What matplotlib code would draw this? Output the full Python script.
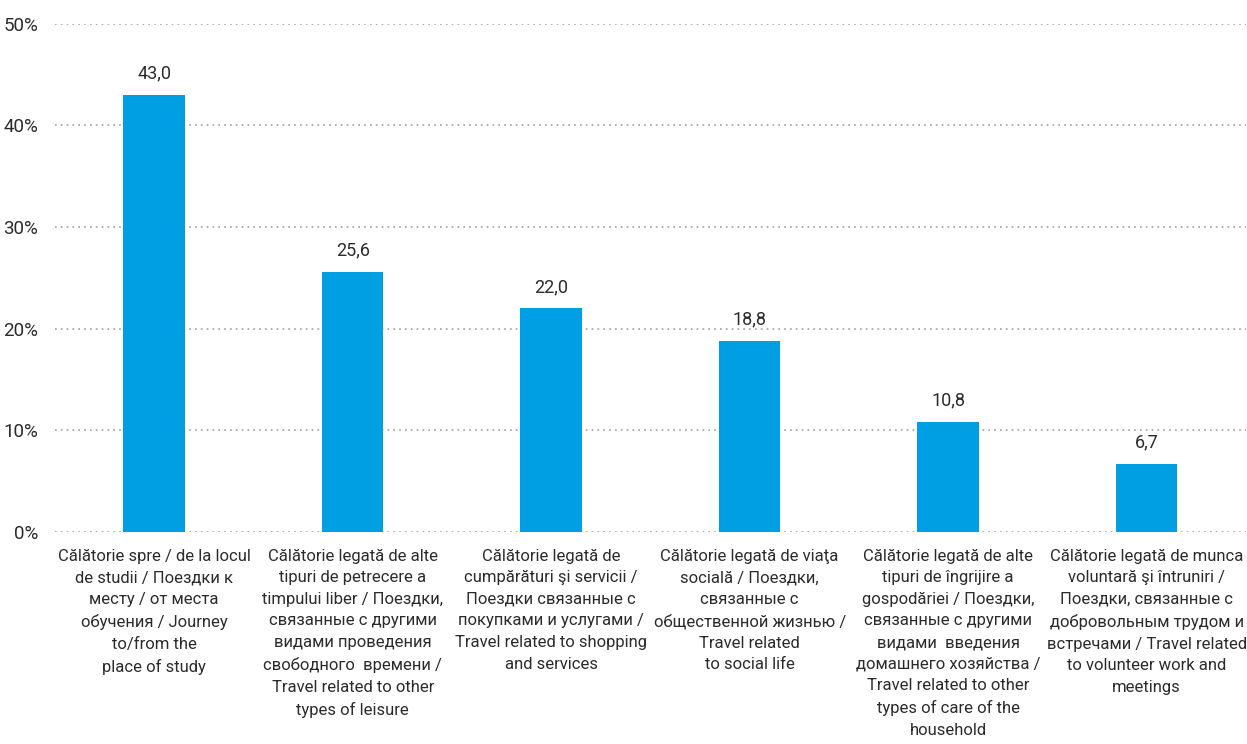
import matplotlib
matplotlib.use('Agg')
import matplotlib.pyplot as plt

categories = [
    'Călătorie spre / de la locul\nde studii / Поездки к\nместу / от места\nобучения / Journey\nto/from the\nplace of study',
    'Călătorie legată de alte\ntipuri de petrecere a\ntimpului liber / Поездки,\nсвязанные с другими\nвидами проведения\nсвободного  времени /\nTravel related to other\ntypes of leisure',
    'Călătorie legată de\ncumpărături şi servicii /\nПоездки связанные с\nпокупками и услугами /\nTravel related to shopping\nand services',
    'Călătorie legată de viaţa\nsocială / Поездки,\nсвязанные с\nобщественной жизнью /\nTravel related\nto social life',
    'Călătorie legată de alte\ntipuri de îngrijire a\ngospodăriei / Поездки,\nсвязанные с другими\nвидами  введения\nдомашнего хозяйства /\nTravel related to other\ntypes of care of the\nhousehold',
    'Călătorie legată de munca\nvoluntară şi întruniri /\nПоездки, связанные с\nдобровольным трудом и\nвстречами / Travel related\nto volunteer work and\nmeetings',
]
values = [43.0, 25.6, 22.0, 18.8, 10.8, 6.7]
yticks = [0, 10, 20, 30, 40, 50]

plt.rcParams['font.family'] = ['Roboto', 'DejaVu Sans']
text_color = '#2b2b2b'

fig = plt.figure(figsize=(12.47, 7.44), dpi=100)
ax = fig.add_axes([0.0441, 0.285, 0.955, 0.683])

x = list(range(len(values)))
ax.bar(x, values, width=0.31, color='#009FE3', zorder=3)
for xi, v in zip(x, values):
    ax.annotate(f'{v:.1f}'.replace('.', ','), (xi, v), xytext=(0, 9),
                textcoords='offset points', ha='center', va='bottom',
                fontsize=13, color=text_color)

ax.set_xlim(-0.5, 5.5)
ax.set_ylim(0, 50)
ax.set_yticks(yticks)
ax.set_yticklabels([f'{t}%' for t in yticks], fontsize=13.5, color=text_color)
ax.yaxis.grid(True, linestyle=(0, (1, 2.5)), color='#a0a0a0', linewidth=1.2, zorder=0)
ax.set_xticks(x)
ax.set_xticklabels(categories, fontsize=12, color=text_color, linespacing=1.55)
ax.tick_params(axis='both', length=0)
ax.tick_params(axis='x', pad=12)
ax.tick_params(axis='y', pad=12)
for s in ax.spines.values():
    s.set_visible(False)

fig.savefig('out.png', dpi=100)
